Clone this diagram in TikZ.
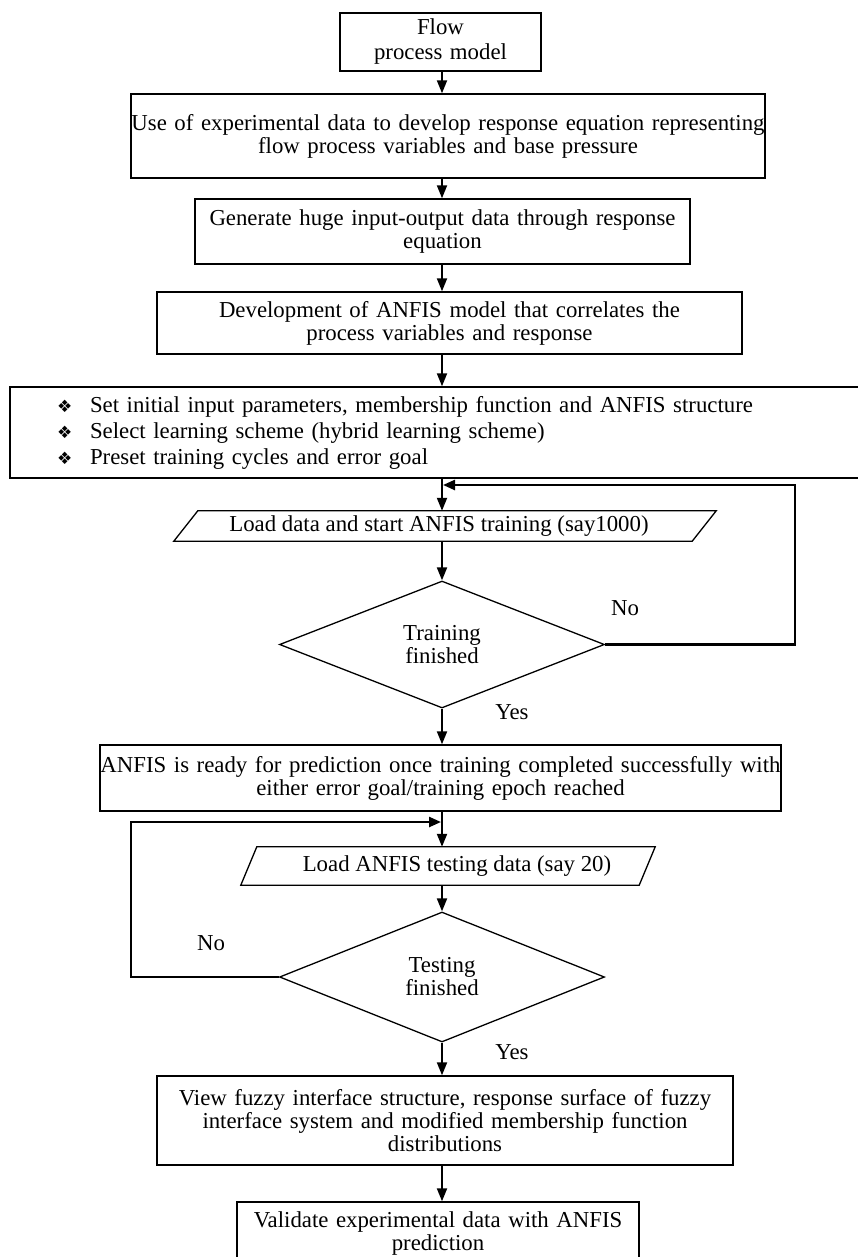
\documentclass[tikz,border=0pt]{standalone}
\usepackage{fontspec}
\setmainfont{Liberation Serif}
\newfontfamily\dingfont{DejaVu Sans}
\usetikzlibrary{shapes.geometric,arrows.meta,calc}
\begin{document}
\begin{tikzpicture}[x=1pt,y=-1pt,
  font=\fontsize{22.8}{23}\selectfont,
  box/.style={draw,line width=1.4pt,rectangle,inner sep=0pt,align=center},
  para/.style={inner sep=0pt,align=center},
  dec/.style={draw,diamond,line width=1.3pt,inner sep=0pt,align=center},
  arr/.style={line width=2pt,-{Triangle[length=13pt,width=10pt]}},
  fb/.style={line width=2.4pt,-{Triangle[length=12pt,width=10pt]}},
  lab/.style={inner sep=0pt}]
\useasboundingbox (0,0) rectangle (858,1257);
\coordinate (spine) at (442,0);

\node[box,text width=201pt,minimum height=58pt,font=\fontsize{22.8}{25}\selectfont] (b1) at (440.5,42) {Flow\\process model};
\node[box,text width=634pt,minimum height=84pt] (b2) at (448,136) {Use of experimental data to develop response equation representing\\flow process variables and base pressure};
\node[box,text width=495pt,minimum height=65pt] (b3) at (442.5,231.5) {Generate huge input-output data through response\\equation};
\node[box,text width=585pt,minimum height=62pt] (b4) at (449.5,323) {Development of ANFIS model that correlates the\\process variables and response};
\node[box,text width=860pt,minimum height=91pt,align=left,font=\fontsize{22.8}{26}\selectfont] (b5) at (440,432.5) {%
\hspace*{47pt}\makebox[33pt][l]{\dingfont\fontsize{17}{26}\selectfont ❖}Set initial input parameters, membership function and ANFIS structure\\
\hspace*{47pt}\makebox[33pt][l]{\dingfont\fontsize{17}{26}\selectfont ❖}Select learning scheme (hybrid learning scheme)\\
\hspace*{47pt}\makebox[33pt][l]{\dingfont\fontsize{17}{26}\selectfont ❖}Preset training cycles and error goal};

\node[para,minimum width=518pt,minimum height=30pt] (p1) at (445,526) {Load data and start ANFIS training (say1000)\hspace*{12pt}};
\draw[line width=1.3pt] ($(p1.south west)+(-12,0)$) -- ($(p1.north west)+(12,0)$) -- ($(p1.north east)+(12,0)$) -- ($(p1.south east)+(-12,0)$) -- cycle;

\node[dec,minimum width=325pt,minimum height=127pt] (d1) at (442,644.5) {Training\\finished};

\node[box,text width=681pt,minimum height=66pt] (b6) at (440.5,778) {ANFIS is ready for prediction once training completed successfully with\\either error goal/training epoch reached};

\node[para,minimum width=398pt,minimum height=38pt] (p2) at (448,866) {\hspace*{18pt}Load ANFIS testing data (say 20)};
\draw[line width=1.3pt] ($(p2.south west)+(-8,0)$) -- ($(p2.north west)+(8,0)$) -- ($(p2.north east)+(8,0)$) -- ($(p2.south east)+(-8,0)$) -- cycle;

\node[dec,minimum width=325pt,minimum height=130pt] (d2) at (442,977) {Testing\\finished};

\node[box,text width=576pt,minimum height=89pt] (b7) at (445,1120.5) {View fuzzy interface structure, response surface of fuzzy\\interface system and modified membership function\\distributions};
\node[box,text width=402pt,minimum height=63pt] (b8) at (438,1233.5) {Validate experimental data with ANFIS\\prediction};

\draw[arr] (b1.south -| spine) -- (b2.north -| spine);
\draw[arr] (b2.south -| spine) -- (b3.north -| spine);
\draw[arr] (b3.south -| spine) -- (b4.north -| spine);
\draw[arr] (b4.south -| spine) -- (b5.north -| spine);
\draw[arr] (b5.south -| spine) -- (p1.north -| spine);
\draw[arr] (p1.south -| spine) -- (d1.north);
\draw[arr] (d1.south) -- (b6.north -| spine);
\draw[arr] (b6.south -| spine) -- (p2.north -| spine);
\draw[arr] (p2.south -| spine) -- (d2.north);
\draw[arr] (d2.south) -- (b7.north -| spine);
\draw[arr] (b7.south -| spine) -- (b8.north -| spine);

\coordinate (r1) at (795,485);
\coordinate (j1) at (443,485);
\draw[fb] (d1.east) -| (r1) -- (j1);
\coordinate (l2) at (131,822);
\coordinate (j2) at (441,822);
\draw[fb] (d2.west) -| (l2) -- (j2);

\node[lab] (no1) at (625,608) {No};
\node[lab] (yes1) at (512,712) {Yes};
\node[lab] (no2) at (211,943) {No};
\node[lab] (yes2) at (512,1052) {Yes};
\end{tikzpicture}
\end{document}
